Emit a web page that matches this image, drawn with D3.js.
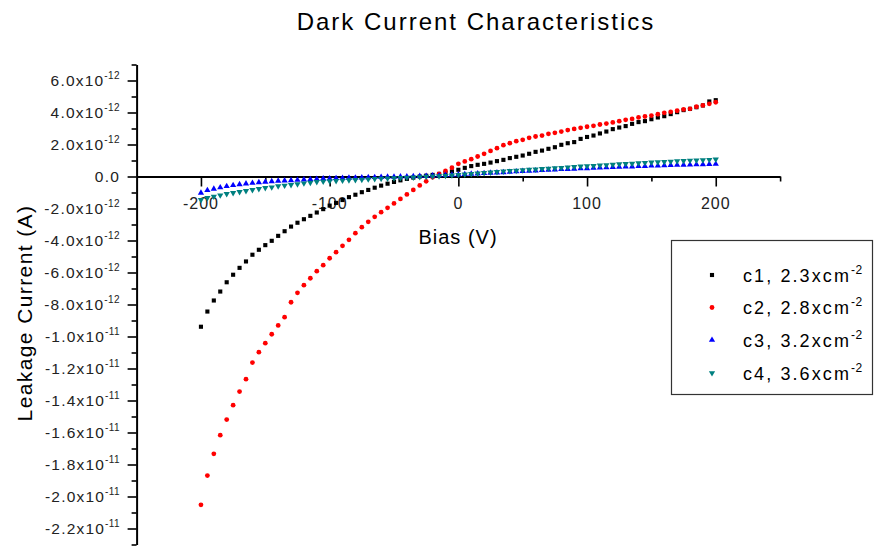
<!DOCTYPE html>
<html>
<head>
<meta charset="utf-8">
<script src="https://cdn.jsdelivr.net/npm/d3@7"></script>
<style>
  html, body { margin: 0; padding: 0; background: #fff; }
  svg { display: block; font-family: "Liberation Sans", Arial, Helvetica, sans-serif; }
</style>
</head>
<body>
<svg id="chart" width="877" height="549"></svg>
<script>
// Bias sweep (V)
const bias = [
  -200, -195, -190, -185, -180, -175, -170, -165, -160, -155,
  -150, -145, -140, -135, -130, -125, -120, -115, -110, -105,
  -100, -95, -90, -85, -80, -75, -70, -65, -60, -55,
  -50, -45, -40, -35, -30, -25, -20, -15, -10, -5,
  0, 5, 10, 15, 20, 25, 30, 35, 40, 45,
  50, 55, 60, 65, 70, 75, 80, 85, 90, 95,
  100, 105, 110, 115, 120, 125, 130, 135, 140, 145,
  150, 155, 160, 165, 170, 175, 180, 185, 190, 195,
  200
];

// Leakage current of each sample, in units of 1e-12 A
const c1 = [
  -9.39, -8.44, -7.75, -7.19, -6.61, -6.14, -5.71, -5.31, -4.89, -4.58,
  -4.29, -4.02, -3.71, -3.42, -3.13, -2.89, -2.67, -2.46, -2.25, -2.04,
  -1.82, -1.65, -1.47, -1.29, -1.14, -0.98, -0.84, -0.70, -0.57, -0.45,
  -0.34, -0.24, -0.15, -0.07, 0.00, 0.05, 0.10, 0.16, 0.22, 0.32,
  0.42, 0.54, 0.65, 0.73, 0.79, 0.87, 0.96, 1.04, 1.15, 1.23,
  1.31, 1.42, 1.54, 1.62, 1.73, 1.83, 1.98, 2.08, 2.15, 2.35,
  2.47, 2.56, 2.69, 2.81, 2.96, 3.06, 3.15, 3.29, 3.40, 3.46,
  3.58, 3.69, 3.77, 3.90, 4.02, 4.15, 4.23, 4.33, 4.44, 4.69,
  4.77
];
const c2 = [
  -20.52, -18.69, -17.33, -16.17, -15.19, -14.29, -13.44, -12.67, -11.63, -10.98,
  -10.42, -9.86, -9.31, -8.79, -7.86, -7.27, -6.79, -6.36, -5.92, -5.54,
  -5.11, -4.73, -4.33, -3.96, -3.54, -3.17, -2.83, -2.52, -2.23, -1.96,
  -1.68, -1.40, -1.12, -0.84, -0.56, -0.30, -0.05, 0.17, 0.35, 0.55,
  0.79, 0.94, 1.08, 1.25, 1.42, 1.60, 1.77, 1.96, 2.08, 2.21,
  2.29, 2.42, 2.50, 2.56, 2.67, 2.73, 2.81, 2.90, 2.97, 3.04,
  3.11, 3.17, 3.25, 3.31, 3.38, 3.46, 3.54, 3.60, 3.69, 3.75,
  3.81, 3.89, 3.98, 4.04, 4.11, 4.19, 4.23, 4.36, 4.44, 4.54,
  4.64
];
const c3 = [
  -1.02, -0.86, -0.77, -0.69, -0.61, -0.55, -0.49, -0.45, -0.41, -0.37,
  -0.34, -0.31, -0.28, -0.26, -0.24, -0.22, -0.20, -0.18, -0.16, -0.14,
  -0.13, -0.11, -0.10, -0.09, -0.08, -0.07, -0.06, -0.05, -0.04, -0.03,
  -0.02, -0.01, 0.00, 0.01, 0.02, 0.03, 0.05, 0.06, 0.08, 0.10,
  0.12, 0.14, 0.16, 0.18, 0.20, 0.22, 0.24, 0.26, 0.28, 0.31,
  0.33, 0.35, 0.37, 0.39, 0.41, 0.43, 0.45, 0.46, 0.48, 0.50,
  0.51, 0.53, 0.55, 0.56, 0.58, 0.59, 0.61, 0.62, 0.64, 0.65,
  0.67, 0.68, 0.69, 0.71, 0.72, 0.73, 0.74, 0.75, 0.76, 0.77,
  0.78
];
const c4 = [
  -1.46, -1.33, -1.25, -1.17, -1.08, -1.02, -0.96, -0.90, -0.83, -0.77,
  -0.71, -0.67, -0.60, -0.56, -0.52, -0.48, -0.42, -0.38, -0.33, -0.31,
  -0.29, -0.27, -0.25, -0.23, -0.21, -0.19, -0.17, -0.15, -0.13, -0.12,
  -0.10, -0.08, -0.06, -0.05, -0.03, -0.01, 0.01, 0.03, 0.05, 0.08,
  0.11, 0.14, 0.17, 0.20, 0.23, 0.26, 0.29, 0.32, 0.35, 0.37,
  0.40, 0.43, 0.45, 0.48, 0.50, 0.53, 0.55, 0.58, 0.60, 0.63,
  0.65, 0.67, 0.70, 0.72, 0.74, 0.77, 0.79, 0.81, 0.84, 0.86,
  0.88, 0.90, 0.92, 0.94, 0.96, 0.98, 1.00, 1.01, 1.03, 1.05,
  1.07
];

const seriesNames = ["c1, 2.3xcm", "c2, 2.8xcm", "c3, 3.2xcm", "c4, 3.6xcm"];
const seriesSup = "-2";
const seriesColors = ["#000000", "#ff0000", "#0000ff", "#008080"];

// Axis ticks
const xTicks = [-200, -100, 0, 100, 200];
const xMinorTicks = [-150, -50, 50, 150, 250];
const yTicks = [6, 4, 2, 0, -2, -4, -6, -8, -10, -12, -14, -16, -18, -20, -22];
const yMinorTicks = [7, 5, 3, 1, -1, -3, -5, -7, -9, -11, -13, -15, -17, -19, -21, -23];

const svg = d3.select("#chart");

const x = d3.scaleLinear().domain([-250, 250]).range([136.6, 780.1]);
const y = d3.scaleLinear().domain([-23, 7]).range([544.5, 64.5]);

// ---- Title and axis titles
svg.append("text")
  .attr("x", 476).attr("y", 30)
  .attr("text-anchor", "middle")
  .style("font-size", "24px").style("letter-spacing", "2px")
  .attr("fill", "#000")
  .text("Dark Current Characteristics");

svg.append("text")
  .attr("x", 458).attr("y", 244)
  .attr("text-anchor", "middle")
  .style("font-size", "20px").style("letter-spacing", "1px")
  .attr("fill", "#000")
  .text("Bias (V)");

svg.append("text")
  .attr("transform", "translate(32,313) rotate(-90)")
  .attr("text-anchor", "middle")
  .style("font-size", "21px").style("letter-spacing", "1.4px")
  .attr("fill", "#000")
  .text("Leakage Current (A)");

// ---- Y axis
const yAxisG = svg.append("g").attr("transform", `translate(${x(-250)},0)`);
yAxisG.call(d3.axisLeft(y).tickValues(yTicks).tickSize(9).tickSizeOuter(0).tickFormat(""));
yAxisG.append("g").call(d3.axisLeft(y).tickValues(yMinorTicks).tickSize(5).tickSizeOuter(0).tickFormat(""))
  .select(".domain").remove();
yAxisG.selectAll(".domain").attr("stroke", "#000").attr("stroke-width", 2);
yAxisG.selectAll(".tick line").attr("stroke", "#000").attr("stroke-width", 1.6);

function yLabelParts(v) {
  if (v === 0) return ["0.0", null];
  if (Math.abs(v) >= 10) return [(v / 10).toFixed(1) + "x10", "-11"];
  return [v.toFixed(1) + "x10", "-12"];
}

const yLab = svg.append("g")
  .style("font-size", "15.5px").style("letter-spacing", "1.2px")
  .attr("fill", "#222");
yTicks.forEach(v => {
  const [main, sup] = yLabelParts(v);
  const t = yLab.append("text")
    .attr("x", 120).attr("y", y(v) + 5.5)
    .attr("text-anchor", "end");
  t.append("tspan").text(main);
  if (sup) {
    t.append("tspan").attr("dy", -7).style("font-size", "10px").style("letter-spacing", "0.4px").text(sup);
  }
});

// ---- X axis (drawn through zero current)
const xAxisG = svg.append("g").attr("transform", `translate(0,${y(0)})`);
xAxisG.call(d3.axisBottom(x).tickValues(xTicks).tickSize(10).tickSizeOuter(0).tickFormat(""));
xAxisG.append("g").call(d3.axisBottom(x).tickValues(xMinorTicks).tickSize(5).tickSizeOuter(0).tickFormat(""))
  .select(".domain").remove();
xAxisG.selectAll(".domain").attr("stroke", "#000").attr("stroke-width", 2);
xAxisG.selectAll(".tick line").attr("stroke", "#000").attr("stroke-width", 1.6);

svg.append("g")
  .style("font-size", "16px").style("letter-spacing", "1px")
  .attr("fill", "#222")
  .selectAll("text")
  .data(xTicks)
  .join("text")
  .attr("x", d => x(d))
  .attr("y", y(0) + 32)
  .attr("text-anchor", "middle")
  .text(d => d);

// ---- Data markers
const symbols = [
  d3.symbol().type(d3.symbolSquare).size(17),
  d3.symbol().type(d3.symbolCircle).size(18),
  d3.symbol().type(d3.symbolTriangle).size(17),
  d3.symbol().type(d3.symbolTriangle).size(17)
];
const rotations = [0, 0, 0, 180];
const series = [c1, c2, c3, c4];

series.forEach((vals, si) => {
  svg.append("g")
    .attr("fill", seriesColors[si])
    .selectAll("path")
    .data(bias.map((b, i) => [b, vals[i]]))
    .join("path")
    .attr("transform", d => `translate(${x(d[0])},${y(d[1])}) rotate(${rotations[si]})`)
    .attr("d", symbols[si]());
});

// ---- Legend
const legend = svg.append("g");
legend.append("rect")
  .attr("x", 671.5).attr("y", 240.5)
  .attr("width", 201).attr("height", 154)
  .attr("fill", "#fff")
  .attr("stroke", "#333").attr("stroke-width", 1.2);

const rowY = [275, 307.5, 340, 373];
seriesNames.forEach((name, si) => {
  legend.append("path")
    .attr("transform", `translate(712,${rowY[si]}) rotate(${rotations[si]})`)
    .attr("fill", seriesColors[si])
    .attr("d", symbols[si]());
  const t = legend.append("text")
    .attr("x", 743).attr("y", rowY[si] + 6.5)
    .style("font-size", "18px").style("letter-spacing", "2.1px")
    .attr("fill", "#000");
  t.append("tspan").text(name);
  t.append("tspan").attr("dy", -8).style("font-size", "12px").style("letter-spacing", "0.5px").text(seriesSup);
});
</script>
</body>
</html>
